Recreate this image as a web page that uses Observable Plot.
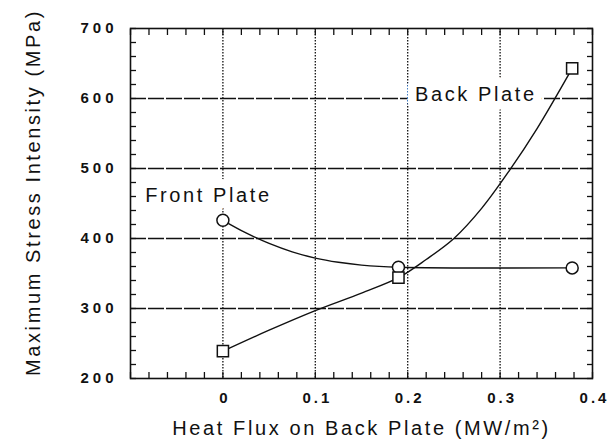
<!DOCTYPE html>
<html>
<head>
<meta charset="utf-8">
<script src="https://cdn.jsdelivr.net/npm/d3@7"></script>
<script src="https://cdn.jsdelivr.net/npm/@observablehq/plot@0.6"></script>
<style>
  html, body { margin: 0; padding: 0; background: #fff; }
  g[aria-label="y-axis tick label"] text { letter-spacing: 4px; }
  g[aria-label="x-axis tick label"] text { letter-spacing: 3px; }
  g[aria-label="text"] text { letter-spacing: 2.6px; }
</style>
</head>
<body>
<div id="chart"></div>
<script>
// ---- data: measured points (markers) ----
const heatFlux = [0, 0.19, 0.378];
const frontPlate = [426, 359, 358];
const backPlate = [239, 344, 643];

// ---- data: fitted curves ----
const frontCurveX = [0, 0.025, 0.05, 0.075, 0.1, 0.125, 0.15, 0.19, 0.378];
const frontCurveY = [426, 408, 393, 381, 372, 366, 362, 359, 358];
const backCurveX = [0, 0.05, 0.1, 0.15, 0.19, 0.22, 0.25, 0.28, 0.31, 0.34, 0.378];
const backCurveY = [239, 269, 297, 322, 344, 370, 400, 443, 497, 557, 643];

// ---- axes ----
const xTicks = [0, 0.1, 0.2, 0.3, 0.4];
const xTickLabels = ["0", "0.1", "0.2", "0.3", "0.4"];
const yTicks = [200, 300, 400, 500, 600, 700];
const xGrid = [0, 0.1, 0.2, 0.3];
const yGrid = [300, 400, 500, 600];
const xMinor = [-0.1, -0.08, -0.06, -0.04, -0.02, 0, 0.02, 0.04, 0.06, 0.08, 0.1, 0.12, 0.14, 0.16, 0.18, 0.2, 0.22, 0.24, 0.26, 0.28, 0.3, 0.32, 0.34, 0.36, 0.38, 0.4];
const yMinor = [200, 220, 240, 260, 280, 300, 320, 340, 360, 380, 400, 420, 440, 460, 480, 500, 520, 540, 560, 580, 600, 620, 640, 660, 680, 700];

// ---- annotations ----
const seriesLabels = ["Front Plate", "Back Plate"];
const seriesLabelX = [-0.084, 0.208];
const seriesLabelY = [461, 606];

const xTitle = "Heat Flux on Back Plate (MW/m²)";
const yTitle = "Maximum Stress Intensity (MPa)";

const frontPts = heatFlux.map((x, i) => ({x, y: frontPlate[i]}));
const backPts = heatFlux.map((x, i) => ({x, y: backPlate[i]}));
const frontCurve = frontCurveX.map((x, i) => ({x, y: frontCurveY[i]}));
const backCurve = backCurveX.map((x, i) => ({x, y: backCurveY[i]}));
const notes = seriesLabels.map((t, i) => ({t, x: seriesLabelX[i], y: seriesLabelY[i]}));

const ink = "#111";
const chart = Plot.plot({
  width: 613,
  height: 444,
  marginLeft: 130,
  marginRight: 21,
  marginTop: 28,
  marginBottom: 66,
  style: {fontFamily: "'Liberation Sans', Arial, sans-serif", fontSize: "15px", color: ink, background: "#fff"},
  x: {domain: [-0.1, 0.4]},
  y: {domain: [200, 700]},
  marks: [
    Plot.ruleX(xGrid, {stroke: ink, strokeWidth: 1.3, strokeDasharray: "1.5,1.5"}),
    Plot.ruleY(yGrid, {stroke: ink, strokeWidth: 1.3, strokeDasharray: "16,2"}),
    Plot.axisX(xMinor, {anchor: "bottom", tickSize: -6, tickFormat: () => "", label: null, strokeWidth: 1.3}),
    Plot.axisX(xMinor, {anchor: "top", tickSize: -6, tickFormat: () => "", label: null, strokeWidth: 1.3}),
    Plot.axisY(yMinor, {anchor: "left", tickSize: -6, tickFormat: () => "", label: null, strokeWidth: 1.3}),
    Plot.axisY(yMinor, {anchor: "right", tickSize: -6, tickFormat: () => "", label: null, strokeWidth: 1.3}),
    Plot.axisX(xTicks, {anchor: "bottom", tickSize: 0, tickPadding: 14, tickFormat: (d, i) => xTickLabels[i], label: null, fontSize: 15, fontWeight: "bold", dx: 2}),
    Plot.axisY(yTicks, {anchor: "left", tickSize: 0, tickPadding: 13, label: null, fontSize: 15, fontWeight: "bold"}),
    Plot.frame({stroke: ink, strokeWidth: 1.6}),
    Plot.text(notes, {x: "x", y: "y", text: "t", textAnchor: "start", fontSize: 20, fill: ink, stroke: "white", strokeWidth: 18, strokeLinejoin: "round"}),
    Plot.line(frontCurve, {x: "x", y: "y", curve: "catmull-rom", stroke: ink, strokeWidth: 1.4}),
    Plot.line(backCurve, {x: "x", y: "y", curve: "catmull-rom", stroke: ink, strokeWidth: 1.4}),
    Plot.dot(frontPts, {x: "x", y: "y", symbol: "circle", r: 6, fill: "white", stroke: ink, strokeWidth: 1.5}),
    Plot.dot(backPts, {x: "x", y: "y", symbol: "square", r: 6.3, fill: "white", stroke: ink, strokeWidth: 1.5}),
    Plot.text([xTitle], {frameAnchor: "bottom", lineAnchor: "middle", dy: 50, fontSize: 20, fill: ink}),
    Plot.text([yTitle], {frameAnchor: "left", textAnchor: "middle", lineAnchor: "middle", rotate: -90, dx: -97, dy: -11, fontSize: 20, fill: ink})
  ]
});
document.getElementById("chart").appendChild(chart);
</script>
</body>
</html>
